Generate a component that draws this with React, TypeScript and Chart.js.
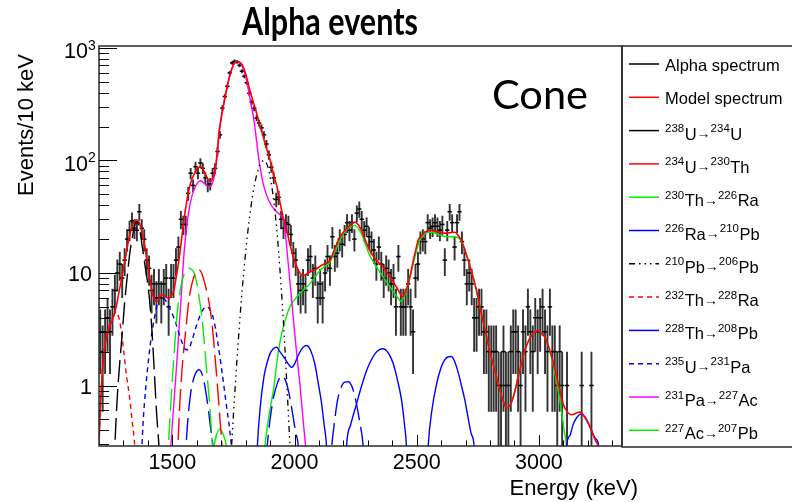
import React, { useEffect, useRef } from 'react';
import { Chart, registerables } from 'chart.js';

Chart.register(...registerables);

// ---------------- axis ranges & ticks ----------------
const X_MIN = 1200;
const X_MAX = 3340;
const Y_MIN = 0.29;
const Y_MAX = 1040;
const xMajorTicks = [1500, 2000, 2500, 3000];
const xMinorTicks = [1300, 1400, 1600, 1700, 1800, 1900, 2100, 2200, 2300, 2400, 2600, 2700, 2800, 2900, 3100, 3200, 3300];
const yMajorTicks = [1, 10, 100, 1000];
const yMajorLabels = ['1', '10', '10^2', '10^3'];
const yMinorTicks = [0.3, 0.4, 0.5, 0.6, 0.7, 0.8, 0.9, 2, 3, 4, 5, 6, 7, 8, 9, 20, 30, 40, 50, 60, 70, 80, 90, 200, 300, 400, 500, 600, 700, 800, 900];

// ---------------- histogram (Events / 10 keV) ----------------
const binEnergy = [
  1205, 1215, 1225, 1235, 1245, 1255, 1265, 1275, 1285, 1295,
  1305, 1315, 1325, 1335, 1345, 1355, 1365, 1375, 1385, 1395,
  1405, 1415, 1425, 1435, 1445, 1455, 1465, 1475, 1485, 1495,
  1505, 1515, 1525, 1535, 1545, 1555, 1565, 1575, 1585, 1595,
  1605, 1615, 1625, 1635, 1645, 1655, 1665, 1675, 1685, 1695,
  1705, 1715, 1725, 1735, 1745, 1755, 1765, 1775, 1785, 1795,
  1805, 1815, 1825, 1835, 1845, 1855, 1865, 1875, 1885, 1895,
  1905, 1915, 1925, 1935, 1945, 1955, 1965, 1975, 1985, 1995,
  2005, 2015, 2025, 2035, 2045, 2055, 2065, 2075, 2085, 2095,
  2105, 2115, 2125, 2135, 2145, 2155, 2165, 2175, 2185, 2195,
  2205, 2215, 2225, 2235, 2245, 2255, 2265, 2275, 2285, 2295,
  2305, 2315, 2325, 2335, 2345, 2355, 2365, 2375, 2385, 2395,
  2405, 2415, 2425, 2435, 2445, 2455, 2465, 2475, 2485, 2495,
  2505, 2515, 2525, 2535, 2545, 2555, 2565, 2575, 2585, 2595,
  2605, 2615, 2625, 2635, 2645, 2655, 2665, 2675, 2685, 2695,
  2705, 2715, 2725, 2735, 2745, 2755, 2765, 2775, 2785, 2795,
  2805, 2815, 2825, 2835, 2845, 2855, 2865, 2875, 2885, 2895,
  2905, 2915, 2925, 2935, 2945, 2955, 2965, 2975, 2985, 2995,
  3005, 3015, 3025, 3035, 3045, 3055, 3065, 3075, 3085, 3095,
  3115, 3175, 3215,
];
const binCounts = [
  3, 2, 3, 4, 3, 5, 7, 10, 12, 9,
  13, 20, 24, 29, 25, 24, 35, 25, 20, 13,
  11, 7, 8, 6, 8, 6, 8, 9, 5, 9,
  9, 13, 17, 30, 27, 27, 51, 77, 60, 88,
  77, 95, 85, 70, 60, 62, 77, 85, 120, 169,
  292, 370, 455, 600, 735, 760, 750, 700, 620, 560,
  490, 395, 330, 290, 238, 215, 195, 169, 140, 112,
  87, 70, 45, 47, 30, 25, 28, 27, 22, 15,
  13, 8, 7, 8, 7, 13, 14, 9, 11, 6,
  8, 6, 10, 14, 11, 21, 14, 15, 20, 18,
  22, 28, 24, 28, 20, 34, 37, 30, 24, 26,
  21, 19, 16, 12, 17, 12, 9, 11, 10, 8,
  9, 5, 14, 5, 5, 5, 8, 5, 3, 9,
  12, 19, 20, 19, 28, 25, 26, 28, 26, 24,
  27, 13, 24, 35, 28, 17, 28, 35, 19, 13,
  8, 10, 8, 4, 4, 5, 5, 3, 3, 2,
  2, 2, 2, 1, 1, 2, 1, 1, 2, 3,
  3, 2, 1, 3, 2, 5, 3, 2, 4, 3,
  4, 5, 3, 2, 5, 2, 2, 1, 2, 1,
  1, 1, 1,
];

// ---------------- fitted curves [energy keV, events/10 keV] ----------------
const modelSpectrum: [number, number][] = [
  [1195, 0.1], [1200, 0.3], [1210, 1.0], [1220, 1.9], [1227, 2.4], [1240, 3.2], [1255, 3.8], [1270, 5.0], [1282, 6.8], [1295, 9.5],
  [1309, 14], [1322, 20], [1336, 26], [1353, 29.7], [1365, 28], [1377, 22.6], [1388, 17], [1398, 12.5], [1408, 9], [1418, 6.6],
  [1428, 5.8], [1439, 5.6], [1449, 6.1], [1459, 6.4], [1470, 6.3], [1480, 6.0], [1490, 6.0], [1500, 6.5], [1507, 7.1], [1517, 9.5],
  [1527, 13], [1538, 20], [1548, 30], [1558, 42], [1568, 55], [1580, 68], [1595, 80], [1605, 86], [1616, 88], [1626, 83],
  [1636, 75], [1646, 68], [1657, 65], [1667, 72], [1677, 88], [1684, 120], [1691, 175], [1700, 240], [1711, 323], [1724, 450],
  [1738, 597], [1752, 720], [1766, 759], [1776, 745], [1786, 708], [1800, 590], [1813, 455], [1827, 355], [1841, 282], [1855, 215],
  [1868, 175], [1882, 135], [1895, 110], [1905, 92], [1916, 72], [1927, 60], [1940, 43], [1954, 31], [1968, 24], [1981, 18],
  [1995, 14], [2008, 11.5], [2022, 10], [2036, 9.5], [2050, 9.8], [2063, 10.2], [2077, 10.5], [2094, 11.0], [2111, 11.7], [2128, 12.2],
  [2145, 12.9], [2165, 16.5], [2186, 20.8], [2203, 23.5], [2220, 25.5], [2235, 27.5], [2247, 28.3], [2260, 27], [2274, 23.9], [2290, 19.5],
  [2308, 15.8], [2328, 13.5], [2349, 12.1], [2366, 11], [2383, 9.8], [2400, 8.6], [2417, 7.5], [2430, 6.7], [2442, 6.1], [2453, 6.8],
  [2465, 8.0], [2476, 10], [2486, 12.9], [2496, 16], [2506, 19.5], [2520, 21.5], [2533, 23], [2547, 23.7], [2561, 24], [2578, 23.5],
  [2595, 23], [2615, 22.6], [2636, 22.8], [2656, 23], [2670, 21.5], [2683, 19.5], [2697, 16], [2711, 12.9], [2725, 10.2], [2738, 8.0],
  [2752, 5.9], [2765, 4.3], [2779, 3.2], [2792, 2.35], [2806, 1.75], [2820, 1.36], [2833, 1.05], [2847, 0.81], [2857, 0.7], [2867, 0.63],
  [2878, 0.65], [2888, 0.71], [2901, 0.88], [2915, 1.19], [2928, 1.55], [2942, 2.05], [2956, 2.45], [2970, 2.8], [2983, 3.0], [2997, 3.08],
  [3010, 2.95], [3024, 2.7], [3037, 2.3], [3051, 1.85], [3065, 1.4], [3079, 1.03], [3089, 0.85], [3099, 0.69], [3110, 0.61], [3120, 0.57],
  [3133, 0.55], [3147, 0.56], [3158, 0.575], [3167, 0.58], [3178, 0.56], [3188, 0.52], [3200, 0.47], [3215, 0.4], [3230, 0.33], [3245, 0.28],
  [3255, 0.2],
];

const u238: [number, number][] = [
  [1258, 0.1], [1265, 0.29], [1275, 0.8], [1285, 1.6], [1295, 2.9], [1305, 5.5], [1316, 9.5], [1326, 15], [1336, 20.5], [1345, 26],
  [1353, 28.7], [1362, 27], [1370, 22], [1377, 17.2], [1390, 11], [1398, 8.5], [1406, 6], [1415, 3.5], [1425, 1.5], [1435, 0.6],
  [1447, 0.25], [1455, 0.1],
];

const u234: [number, number][] = [
  [1515, 0.1], [1520, 0.2], [1530, 0.65], [1540, 1.4], [1548, 2.2], [1558, 3.6], [1568, 5.8], [1579, 7.8], [1589, 9.3], [1600, 10.4],
  [1609, 10.7], [1620, 10.0], [1636, 7.6], [1647, 6.0], [1657, 4.4], [1667, 2.8], [1677, 1.58], [1688, 0.8], [1698, 0.41], [1708, 0.2],
  [1714, 0.1],
];

const th230: [number, number][] = [
  [1474, 0.1], [1480, 0.2], [1490, 0.5], [1500, 1.12], [1510, 2.3], [1520, 4.4], [1530, 6.5], [1541, 8.7], [1555, 10.3], [1568, 11],
  [1580, 10.7], [1589, 10], [1600, 8.2], [1609, 6.2], [1620, 4.2], [1629, 2.7], [1640, 1.4], [1650, 0.8], [1660, 0.4], [1668, 0.2],
  [1674, 0.1],
];

const ra226: [number, number][] = [
  [1545, 0.1], [1552, 0.2], [1562, 0.45], [1575, 0.85], [1590, 1.2], [1609, 1.38], [1625, 1.2], [1640, 0.8], [1655, 0.45], [1668, 0.25],
  [1676, 0.1], [1860, 0.1], [1880, 0.2], [1900, 0.5], [1915, 0.8], [1930, 1.05], [1947, 1.22], [1960, 1.15], [1975, 0.9], [1990, 0.6],
  [2005, 0.38], [2015, 0.29], [2025, 0.1], [2140, 0.1], [2150, 0.25], [2165, 0.5], [2175, 0.72], [2190, 0.95], [2205, 1.07], [2220, 1.08],
  [2235, 0.98], [2250, 0.75], [2265, 0.5], [2281, 0.29], [2292, 0.12],
];

const pb210: [number, number][] = [
  [1732, 0.1], [1740, 0.23], [1750, 0.55], [1760, 1.2], [1770, 2.5], [1785, 6.7], [1800, 15.3], [1815, 30], [1830, 51], [1845, 74],
  [1860, 93], [1875, 100], [1890, 89], [1900, 72], [1910, 53], [1920, 35], [1930, 21], [1940, 11], [1950, 5.3], [1960, 2.3],
  [1970, 0.9], [1980, 0.33], [1990, 0.11],
];

const th232: [number, number][] = [
  [1195, 0.1], [1200, 0.3], [1210, 1.0], [1220, 1.9], [1230, 2.7], [1240, 3.3], [1250, 3.8], [1260, 4.2], [1270, 4.3], [1278, 4.2],
  [1290, 3.2], [1302, 1.94], [1313, 1.2], [1323, 0.85], [1335, 0.5], [1347, 0.28], [1355, 0.15],
];

const th228: [number, number][] = [
  [1840, 0.1], [1848, 0.29], [1860, 0.65], [1875, 1.2], [1888, 1.6], [1899, 1.9], [1913, 2.12], [1927, 2.19], [1940, 2.0], [1961, 1.73],
  [1975, 1.55], [1988, 1.45], [2000, 1.55], [2015, 1.85], [2032, 2.15], [2049, 2.27], [2066, 2.05], [2083, 1.56], [2097, 1.05], [2111, 0.69],
  [2121, 0.45], [2131, 0.29], [2140, 0.1], [2205, 0.1], [2213, 0.29], [2230, 0.45], [2254, 0.69], [2275, 1.0], [2295, 1.36], [2312, 1.65],
  [2329, 1.91], [2346, 2.07], [2363, 2.12], [2380, 2.0], [2395, 1.75], [2404, 1.56], [2420, 1.15], [2438, 0.74], [2450, 0.45], [2458, 0.29],
  [2466, 0.1], [2538, 0.1], [2547, 0.29], [2562, 0.6], [2580, 1.0], [2600, 1.45], [2615, 1.7], [2630, 1.8], [2642, 1.81], [2656, 1.62],
  [2670, 1.3], [2683, 1.0], [2697, 0.74], [2710, 0.52], [2722, 0.38], [2735, 0.29], [2745, 0.1], [3105, 0.1], [3113, 0.29], [3127, 0.36],
  [3140, 0.45], [3155, 0.52], [3174, 0.56], [3190, 0.52], [3205, 0.45], [3215, 0.4], [3230, 0.34], [3245, 0.29], [3255, 0.1],
];

const u235: [number, number][] = [
  [1365, 0.1], [1370, 0.15], [1380, 0.45], [1392, 1.0], [1404, 1.8], [1415, 2.8], [1425, 3.8], [1438, 5.2], [1452, 6.2], [1465, 6.0],
  [1479, 5.4], [1495, 4.6], [1514, 3.6], [1527, 2.9], [1541, 2.38], [1553, 2.1], [1565, 2.08], [1580, 2.5], [1595, 3.2], [1610, 4.0],
  [1625, 4.7], [1643, 5.0], [1657, 4.6], [1670, 3.8], [1685, 2.5], [1704, 1.29], [1720, 0.7], [1735, 0.4], [1748, 0.2], [1755, 0.1],
];

const pa231: [number, number][] = [
  [1485, 0.1], [1490, 0.2], [1500, 0.45], [1510, 0.9], [1520, 1.8], [1527, 3.1], [1538, 7], [1548, 15], [1558, 25], [1568, 36],
  [1580, 48], [1595, 59], [1605, 64], [1616, 66], [1626, 64], [1636, 61], [1647, 59], [1657, 59], [1667, 66], [1677, 83],
  [1684, 115], [1691, 172], [1700, 238], [1711, 320], [1724, 448], [1738, 595], [1752, 718], [1766, 757], [1776, 740], [1786, 690],
  [1800, 560], [1810, 440], [1820, 330], [1831, 250], [1841, 175], [1852, 110], [1862, 80], [1872, 62], [1882, 52], [1893, 45],
  [1905, 40], [1916, 37], [1927, 35], [1940, 33], [1954, 30], [1961, 24], [1968, 17], [1981, 8.5], [1995, 4.0], [2008, 2.0],
  [2022, 1.03], [2035, 0.5], [2045, 0.29], [2055, 0.15],
];

const ac227: [number, number][] = [
  [1655, 0.1], [1662, 0.2], [1670, 0.28], [1680, 0.36], [1695, 0.41], [1710, 0.36], [1720, 0.3], [1732, 0.2], [1740, 0.1],
  [1862, 0.1], [1870, 0.15], [1879, 0.29], [1890, 0.45], [1899, 0.6], [1916, 0.98], [1927, 1.56], [1940, 2.4], [1954, 3.3], [1968, 4.2],
  [1981, 5.0], [2000, 5.8], [2022, 6.6], [2040, 7.2], [2063, 8.0], [2083, 9.2], [2104, 10.5], [2125, 11.5], [2145, 12.5], [2165, 15.5],
  [2186, 19.5], [2205, 23], [2227, 25.5], [2247, 26.5], [2260, 25], [2274, 22.3], [2290, 18], [2308, 14.3], [2328, 12], [2349, 10.2],
  [2366, 9], [2383, 8.0], [2397, 7.2], [2411, 6.5], [2423, 6.0], [2435, 5.6], [2446, 6.0], [2458, 7.0], [2472, 9.3], [2486, 12.1],
  [2500, 16], [2513, 19.5], [2530, 22], [2547, 23], [2564, 23], [2581, 22.3], [2600, 21.5], [2622, 21], [2640, 21], [2656, 21],
  [2670, 20.5], [2683, 19], [2697, 15.8], [2711, 12.9], [2725, 10.2], [2738, 8.0], [2752, 5.9], [2765, 4.3], [2779, 3.2], [2792, 2.35],
  [2806, 1.75], [2820, 1.36], [2833, 1.05], [2847, 0.81], [2857, 0.7], [2867, 0.63], [2878, 0.65], [2888, 0.71], [2901, 0.88], [2915, 1.19],
  [2928, 1.55], [2942, 2.05], [2956, 2.45], [2970, 2.8], [2983, 3.0], [2997, 3.08], [3010, 2.95], [3024, 2.7], [3037, 2.3], [3051, 1.8],
  [3065, 1.3], [3079, 0.9], [3092, 0.6], [3103, 0.4], [3113, 0.29], [3120, 0.15],
];

// ---------------- labels ----------------
const titleText = 'Alpha events';
const tagText = 'Cone';
const xTitle = 'Energy (keV)';
const yTitle = 'Events/10 keV';
const legendLabels = [
  'Alpha spectrum',
  'Model spectrum',
  '^{238}U→^{234}U',
  '^{234}U→^{230}Th',
  '^{230}Th→^{226}Ra',
  '^{226}Ra→^{210}Pb',
  '^{210}Pb→^{206}Pb',
  '^{232}Th→^{228}Ra',
  '^{228}Th→^{208}Pb',
  '^{235}U→^{231}Pa',
  '^{231}Pa→^{227}Ac',
  '^{227}Ac→^{207}Pb',
];

// ---------------- styles ----------------
const LONG = [22, 7];
const SHORT = [5, 4];
const DASHDOT = [6, 4, 1.5, 4, 1.5, 4, 1.5, 4];

type Series = { data: [number, number][]; color: string; dash: number[]; legendDash: number[]; width: number };
const curveSeries: Series[] = [
  { data: modelSpectrum, color: '#ff0000', dash: [], legendDash: [], width: 1.6 },
  { data: u238, color: '#000000', dash: LONG, legendDash: [], width: 1.4 },
  { data: u234, color: '#ff0000', dash: LONG, legendDash: [], width: 1.4 },
  { data: th230, color: '#00ee00', dash: LONG, legendDash: [], width: 1.4 },
  { data: ra226, color: '#0000ff', dash: LONG, legendDash: [], width: 1.4 },
  { data: pb210, color: '#000000', dash: DASHDOT, legendDash: DASHDOT, width: 1.3 },
  { data: th232, color: '#ff0000', dash: SHORT, legendDash: SHORT, width: 1.4 },
  { data: th228, color: '#0000ff', dash: [], legendDash: [], width: 1.4 },
  { data: u235, color: '#0000ff', dash: SHORT, legendDash: SHORT, width: 1.4 },
  { data: pa231, color: '#ff00ff', dash: [], legendDash: [], width: 1.4 },
  { data: ac227, color: '#00ee00', dash: [], legendDash: [], width: 1.4 },
];

const AXIS_FONT = '"Liberation Sans", Arial, sans-serif';
const TITLE_FONT = 'Lato, "Open Sans", sans-serif';

function drawFitText(ctx: CanvasRenderingContext2D, text: string, cx: number, baseline: number, width: number, font: string) {
  ctx.save();
  ctx.font = font;
  const w = ctx.measureText(text).width;
  const s = width / w;
  ctx.translate(cx, baseline);
  ctx.scale(s, 1);
  ctx.textAlign = 'center';
  ctx.textBaseline = 'alphabetic';
  ctx.fillStyle = '#000';
  ctx.fillText(text, 0, 0);
  ctx.restore();
}

function drawRich(ctx: CanvasRenderingContext2D, label: string, x: number, baseline: number) {
  const tokens = label.split(/(\^\{[^}]*\}|→)/).filter((t) => t.length > 0);
  let cx = x;
  ctx.textAlign = 'left';
  ctx.textBaseline = 'alphabetic';
  ctx.fillStyle = '#000';
  for (const t of tokens) {
    if (t.startsWith('^{')) {
      const s = t.slice(2, -1);
      ctx.font = `11.5px ${AXIS_FONT}`;
      ctx.fillText(s, cx, baseline - 7.5);
      cx += ctx.measureText(s).width + 0.5;
    } else if (t === '→') {
      ctx.font = `14px ${AXIS_FONT}`;
      ctx.fillText(t, cx, baseline - 1.5);
      cx += ctx.measureText(t).width;
    } else {
      ctx.font = `16.5px ${AXIS_FONT}`;
      ctx.fillText(t, cx, baseline);
      cx += ctx.measureText(t).width;
    }
  }
}

const decorPlugin = {
  id: 'rootDecor',
  beforeDraw(chart: any) {
    const ctx = chart.ctx as CanvasRenderingContext2D;
    ctx.save();
    ctx.fillStyle = '#ffffff';
    ctx.fillRect(0, 0, chart.width, chart.height);
    ctx.restore();
  },
  afterDraw(chart: any) {
    const ctx = chart.ctx as CanvasRenderingContext2D;
    const { left, right, top, bottom } = chart.chartArea;
    const xs = chart.scales.x;
    const ys = chart.scales.y;
    ctx.save();

    // frame + legend box
    ctx.strokeStyle = '#2a2a2a';
    ctx.lineWidth = 1.5;
    ctx.setLineDash([]);
    ctx.strokeRect(left, top, right - left, bottom - top);
    ctx.strokeRect(right, top, 200, bottom - top + 1);

    // x ticks (inward)
    ctx.strokeStyle = '#000';
    ctx.lineWidth = 1;
    ctx.beginPath();
    for (const v of xMajorTicks) {
      const px = Math.round(xs.getPixelForValue(v)) + 0.5;
      ctx.moveTo(px, bottom);
      ctx.lineTo(px, bottom - 11);
    }
    for (const v of xMinorTicks) {
      const px = Math.round(xs.getPixelForValue(v)) + 0.5;
      ctx.moveTo(px, bottom);
      ctx.lineTo(px, bottom - 5.5);
    }
    // y ticks (inward)
    for (const v of yMajorTicks) {
      const py = Math.round(ys.getPixelForValue(v)) + 0.5;
      ctx.moveTo(left, py);
      ctx.lineTo(left + 18, py);
    }
    for (const v of yMinorTicks) {
      const py = Math.round(ys.getPixelForValue(v)) + 0.5;
      ctx.moveTo(left, py);
      ctx.lineTo(left + 10, py);
    }
    ctx.stroke();

    // x tick labels
    ctx.fillStyle = '#000';
    ctx.font = `21.5px ${AXIS_FONT}`;
    ctx.textAlign = 'center';
    ctx.textBaseline = 'alphabetic';
    for (const v of xMajorTicks) {
      ctx.fillText(String(v), xs.getPixelForValue(v), bottom + 23);
    }
    // y tick labels
    yMajorTicks.forEach((v, i) => {
      const lab = yMajorLabels[i];
      const py = ys.getPixelForValue(v);
      if (lab.includes('^')) {
        const [base, exp] = lab.split('^');
        ctx.font = `21.5px ${AXIS_FONT}`;
        ctx.textAlign = 'right';
        ctx.fillText(base, left - 11, py + 10.5);
        ctx.font = `14px ${AXIS_FONT}`;
        ctx.textAlign = 'left';
        ctx.fillText(exp, left - 11, py + 2);
      } else {
        ctx.font = `21.5px ${AXIS_FONT}`;
        ctx.textAlign = 'right';
        ctx.fillText(lab, left - 7, py + 8);
      }
    });

    // axis titles
    ctx.font = `22px ${AXIS_FONT}`;
    ctx.textAlign = 'right';
    ctx.fillText(xTitle, right + 16, bottom + 49);
    ctx.save();
    ctx.translate(33, 125);
    ctx.rotate(-Math.PI / 2);
    ctx.textAlign = 'center';
    ctx.fillText(yTitle, 0, 0);
    ctx.restore();

    // title and tag
    drawFitText(ctx, titleText, 330, 35, 176, `bold 38px ${TITLE_FONT}`);
    drawFitText(ctx, tagText, 540, 109, 96, `41px ${TITLE_FONT}`);

    // legend
    const rowH = 33.3;
    legendLabels.forEach((lab, i) => {
      const ry = top + 18 + i * rowH;
      let color = '#000';
      let dash: number[] = [];
      if (i > 0) {
        const s = curveSeries[i - 1];
        color = s.color;
        dash = s.legendDash;
      }
      ctx.strokeStyle = color;
      ctx.lineWidth = 1.5;
      ctx.setLineDash(dash);
      ctx.beginPath();
      ctx.moveTo(right + 7, ry);
      ctx.lineTo(right + 37, ry);
      ctx.stroke();
      ctx.setLineDash([]);
      const hasSup = lab.includes('^');
      drawRich(ctx, lab, right + 43, ry + (hasSup ? 9 : 6.5));
    });

    ctx.restore();
  },
};

export default function App() {
  const ref = useRef<HTMLCanvasElement>(null);
  useEffect(() => {
    const canvas = ref.current;
    if (!canvas) return;

    const errorBars: any[] = [];
    const points: any[] = [];
    binEnergy.forEach((e, i) => {
      const n = binCounts[i];
      if (n <= 0) return;
      const s = Math.sqrt(n);
      errorBars.push({ x: e, y: Math.max(n - s, 0.05) }, { x: e, y: n + s }, { x: e, y: null });
      points.push({ x: e, y: n });
    });

    const curveSets = curveSeries.map((s) => ({
      type: 'line' as const,
      data: s.data.map(([x, y]) => ({ x, y })),
      borderColor: s.color,
      borderWidth: s.width,
      borderDash: s.dash,
      pointRadius: 0,
      fill: false,
      tension: 0.4,
      cubicInterpolationMode: 'monotone' as const,
      clip: 0,
    }));

    const chart = new Chart(canvas, {
      type: 'line',
      data: {
        datasets: [
          ...curveSets,
          {
            type: 'line',
            data: points,
            showLine: false,
            pointStyle: 'line',
            pointRadius: 2.2,
            pointBorderWidth: 1.5,
            pointBorderColor: '#000',
            pointBackgroundColor: '#000',
            borderColor: '#000',
            clip: 0,
          },
          {
            type: 'line',
            data: errorBars,
            borderColor: '#333333',
            borderWidth: 1.9,
            pointRadius: 0,
            tension: 0,
            spanGaps: false,
            fill: false,
            clip: 0,
          },
        ] as any,
      },
      options: {
        animation: false,
        responsive: false,
        maintainAspectRatio: false,
        devicePixelRatio: 1,
        events: [],
        layout: { padding: { left: 99, top: 46, right: 170, bottom: 56 } },
        scales: {
          x: { type: 'linear', min: X_MIN, max: X_MAX, display: false },
          y: { type: 'logarithmic', min: Y_MIN, max: Y_MAX, display: false },
        },
        plugins: {
          legend: { display: false },
          tooltip: { enabled: false },
          title: { display: false },
        },
      },
      plugins: [decorPlugin],
    });
    return () => chart.destroy();
  }, []);

  return (
    <div style={{ position: 'fixed', left: 0, top: 0, width: 792, height: 502, background: '#ffffff' }}>
      <canvas ref={ref} width={792} height={502} style={{ width: 792, height: 502, display: 'block' }} />
    </div>
  );
}
